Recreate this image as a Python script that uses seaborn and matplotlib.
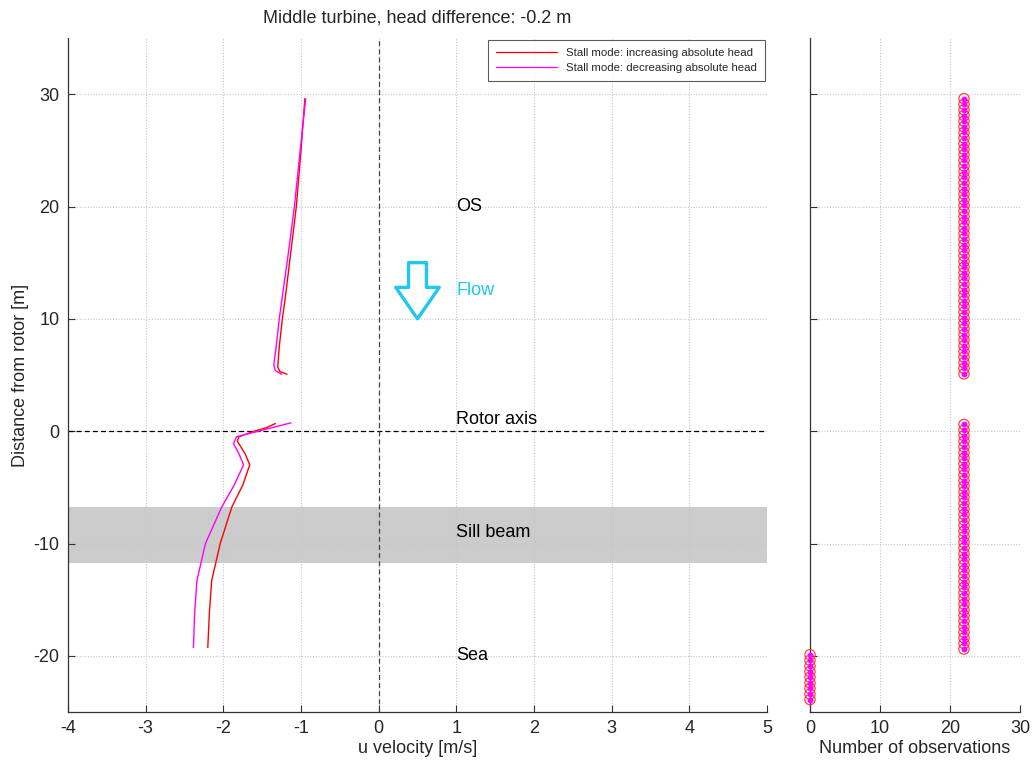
import numpy as np
import pandas as pd
import matplotlib
matplotlib.use("Agg")
import matplotlib.pyplot as plt
from matplotlib.patches import Polygon
from matplotlib.lines import Line2D
import seaborn as sns

# ---------------- data ----------------
series_names = ["Stall mode: increasing absolute head",
                "Stall mode: decreasing absolute head"]

# Upper profile segment (above rotor)
inc_upper_u = [-0.95, -1.00, -1.06, -1.13, -1.20, -1.24, -1.28, -1.30, -1.27, -1.18]
inc_upper_z = [29.6, 25.0, 20.0, 16.0, 12.0, 10.0, 7.5, 5.7, 5.3, 5.07]
dec_upper_u = [-0.94, -1.01, -1.085, -1.16, -1.24, -1.28, -1.32, -1.35, -1.33, -1.25]
dec_upper_z = [29.6, 25.0, 20.0, 16.0, 12.0, 10.0, 7.5, 5.9, 5.4, 5.07]

# Lower profile segment (rotor down to sea bed)
inc_lower_u = [-1.33, -1.45, -1.60, -1.80, -1.82, -1.72, -1.66, -1.75, -1.89, -2.04, -2.15, -2.18, -2.20]
inc_lower_z = [0.68, 0.3, 0.0, -0.5, -0.9, -2.0, -3.0, -4.8, -6.74, -10.0, -13.3, -16.2, -19.26]
dec_lower_u = [-1.13, -1.35, -1.55, -1.83, -1.87, -1.80, -1.74, -1.86, -2.02, -2.23, -2.34, -2.37, -2.385]
dec_lower_z = [0.74, 0.35, 0.0, -0.5, -1.1, -2.0, -3.0, -4.8, -6.74, -10.0, -13.3, -16.2, -19.26]

# Depth bins and number of observations
obs_depth = [29.6, 29.1, 28.6, 28.1, 27.6, 27.1, 26.6, 26.1, 25.6, 25.1,
             24.6, 24.1, 23.6, 23.1, 22.6, 22.1, 21.6, 21.1, 20.6, 20.1,
             19.6, 19.1, 18.6, 18.1, 17.6, 17.1, 16.6, 16.1, 15.6, 15.1,
             14.6, 14.1, 13.6, 13.1, 12.6, 12.1, 11.6, 11.1, 10.6, 10.1,
             9.6, 9.1, 8.6, 8.1, 7.6, 7.1, 6.6, 6.1, 5.6, 5.1,
             0.6, 0.1, -0.4, -0.9, -1.4, -1.9, -2.4, -2.9, -3.4, -3.9,
             -4.4, -4.9, -5.4, -5.9, -6.4, -6.9, -7.4, -7.9, -8.4, -8.9,
             -9.4, -9.9, -10.4, -10.9, -11.4, -11.9, -12.4, -12.9, -13.4, -13.9,
             -14.4, -14.9, -15.4, -15.9, -16.4, -16.9, -17.4, -17.9, -18.4, -18.9,
             -19.4, -19.9, -20.4, -20.9, -21.4, -21.9, -22.4, -22.9, -23.4, -23.9]
obs_count = [22] * 91 + [0] * 9

annotations = ["OS", "Flow", "Rotor axis", "Sill beam", "Sea"]
annotation_y = [20.0, 12.5, 1.0, -9.0, -20.0]
sill_beam = [-11.75, -6.77]
flow_arrow = [0.5, 15.0, 10.0]  # x-centre, top, tip

x_ticks = [-4, -3, -2, -1, 0, 1, 2, 3, 4, 5]
y_ticks = [-20, -10, 0, 10, 20, 30]
n_ticks = [0, 10, 20, 30]

# ---------------- style ----------------
sns.set_theme(style="white")
plt.rcParams["font.family"] = ["Liberation Sans", "DejaVu Sans"]
plt.rcParams["axes.unicode_minus"] = False
plt.rcParams["xtick.direction"] = "in"
plt.rcParams["ytick.direction"] = "in"

RED = "#FF0000"
MAG = "#FF00FF"
CYAN = "#1EC8F0"
FS = 13

fig = plt.figure(figsize=(10.36, 7.62), dpi=100)
ax = fig.add_axes([68/1036, 1-712/762, (767-68)/1036, (712-38)/762])
ax2 = fig.add_axes([810/1036, 1-712/762, (1020-810)/1036, (712-38)/762])

# profiles
rows = []
for seg, (u, z, name) in enumerate([(inc_upper_u, inc_upper_z, series_names[0]),
                                    (inc_lower_u, inc_lower_z, series_names[0]),
                                    (dec_upper_u, dec_upper_z, series_names[1]),
                                    (dec_lower_u, dec_lower_z, series_names[1])]):
    for a, b in zip(u, z):
        rows.append({"u": a, "z": b, "series": name, "seg": seg})
df = pd.DataFrame(rows)

ax.axhspan(sill_beam[0], sill_beam[1], color="#cccccc", zorder=0, lw=0)
sns.lineplot(data=df, x="u", y="z", hue="series", units="seg", estimator=None,
             sort=False, palette=[RED, MAG], lw=1.0, ax=ax, legend=False, zorder=3)

ax.axhline(0, color="black", ls=(0, (4, 2.5)), lw=0.9, zorder=2)
ax.axvline(0, color="#444444", ls=(0, (4, 2.5)), lw=0.9, zorder=2)

ax.set_xlim(-4, 5)
ax.set_ylim(-25, 35)
ax.set_xticks(x_ticks)
ax.set_yticks(y_ticks)
ax.grid(True, color="#c8c8c8", ls=(0, (1, 1.5)), lw=0.8)
for s in ["top", "right"]:
    ax.spines[s].set_visible(False)
for s in ["left", "bottom"]:
    ax.spines[s].set_color("#333333")
    ax.spines[s].set_linewidth(0.9)
ax.tick_params(axis="both", labelsize=FS, length=5, width=0.8, color="#333333",
               bottom=True, left=True, pad=6)
ax.set_xlabel("u velocity [m/s]", fontsize=FS, labelpad=2)
ax.set_ylabel("Distance from rotor [m]", fontsize=FS, labelpad=3)
ax.set_title("Middle turbine, head difference: -0.2 m", fontsize=FS, pad=11)

for txt, yy in zip(annotations, annotation_y):
    ax.text(1.0, yy, txt, fontsize=FS, va="center", ha="left",
            color=CYAN if txt == "Flow" else "black", zorder=4)

xc, ytop, ytip = flow_arrow
arrow = Polygon([(xc - 0.115, ytop), (xc + 0.115, ytop), (xc + 0.115, 12.8),
                 (xc + 0.28, 12.8), (xc, ytip), (xc - 0.28, 12.8),
                 (xc - 0.115, 12.8)], closed=True, fill=False,
                edgecolor=CYAN, lw=2.4, joinstyle="round", zorder=4)
ax.add_patch(arrow)

handles = [Line2D([], [], color=RED, lw=0.9), Line2D([], [], color=MAG, lw=0.9)]
leg = ax.legend(handles, series_names, loc="upper right", fontsize=8.2,
                frameon=True, fancybox=False, borderaxespad=0.2,
                handlelength=5.3, borderpad=0.7, labelspacing=0.45,
                handletextpad=0.8, bbox_to_anchor=(1.0, 1.0))
leg.get_frame().set_edgecolor("#333333")
leg.get_frame().set_linewidth(0.8)

# observations
obs = pd.DataFrame({"n": obs_count, "z": obs_depth})
sns.scatterplot(data=obs, x="n", y="z", ax=ax2, marker="o", s=55,
                facecolors="none", edgecolor="#FF3030", linewidth=0.8, zorder=3, clip_on=False)
sns.scatterplot(data=obs, x="n", y="z", ax=ax2, marker="o", s=18,
                color=MAG, linewidth=0, zorder=4, clip_on=False)
ax2.set_xlim(0, 30)
ax2.set_ylim(-25, 35)
ax2.set_xticks(n_ticks)
ax2.set_yticks(y_ticks)
ax2.set_yticklabels([])
ax2.grid(True, color="#c8c8c8", ls=(0, (1, 1.5)), lw=0.8)
for s in ["top", "right"]:
    ax2.spines[s].set_visible(False)
for s in ["left", "bottom"]:
    ax2.spines[s].set_color("#333333")
    ax2.spines[s].set_linewidth(0.9)
ax2.tick_params(axis="both", labelsize=FS, length=5, width=0.8, color="#333333",
                bottom=True, left=True, pad=6)
ax2.set_xlabel("Number of observations", fontsize=FS, labelpad=2)
ax2.set_ylabel("")

fig.savefig("out.png", dpi=100)
